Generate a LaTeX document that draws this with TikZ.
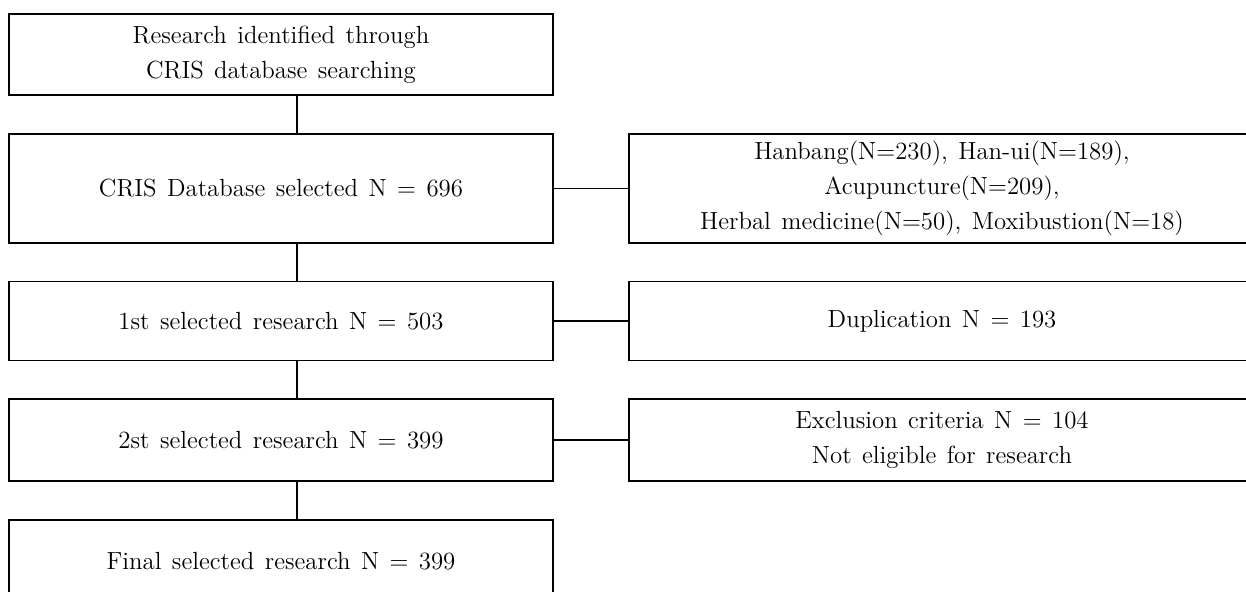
\documentclass[tikz,border=0pt]{standalone}
\newcommand\boxfont{\fontsize{12.4}{17.5}\selectfont\spaceskip=0.42em\relax}
\begin{document}
\begin{tikzpicture}[x=0.5pt,y=-0.5pt]
\tikzstyle{leftbox} = [draw,line width=0.65pt,minimum width=272pt,align=center,inner sep=0pt,font=\boxfont]
\tikzstyle{sidebox} = [leftbox,minimum width=313pt]
\tikzstyle{link} = [line width=0.65pt]
\useasboundingbox (0,0) rectangle (1246,592);
\clip (0,0) rectangle (1246,592);

% left column
\node[leftbox,minimum height=40.5pt] (search) at (281,54.5) {Research identified through\\CRIS database searching};
\node[leftbox,minimum height=54.5pt] (crisdb) at (281,188.5) {CRIS Database selected N = 696};
\node[leftbox,minimum height=39.5pt] (first) at (281,321) {1st selected research N = 503};
\node[leftbox,minimum height=41pt] (second) at (281,440) {2st selected research N = 399};
\node[leftbox,minimum height=41pt] (final) at (281,561) {Final selected research N = 399};

% right column
\node[sidebox,minimum height=54.5pt] (sources) at (942,188.5) {Hanbang(N=230), Han-ui(N=189),\\Acupuncture(N=209),\\Herbal medicine(N=50), Moxibustion(N=18)};
\node[sidebox,minimum height=39.5pt] (dup) at (942,321) {Duplication N = 193};
\node[sidebox,minimum height=41pt] (excl) at (942,440) {Exclusion criteria N = 104\\Not eligible for research};

\draw[link] ([xshift=8pt]search.south) -- ([xshift=8pt]crisdb.north);
\draw[link] ([xshift=8pt]crisdb.south) -- ([xshift=8pt]first.north);
\draw[link] ([xshift=8pt]first.south) -- ([xshift=8pt]second.north);
\draw[link] ([xshift=8pt]second.south) -- ([xshift=8pt]final.north);
\draw[link] (crisdb.east) -- (sources.west);
\draw[link] (first.east) -- (dup.west);
\draw[link] (second.east) -- (excl.west);
\end{tikzpicture}
\end{document}
